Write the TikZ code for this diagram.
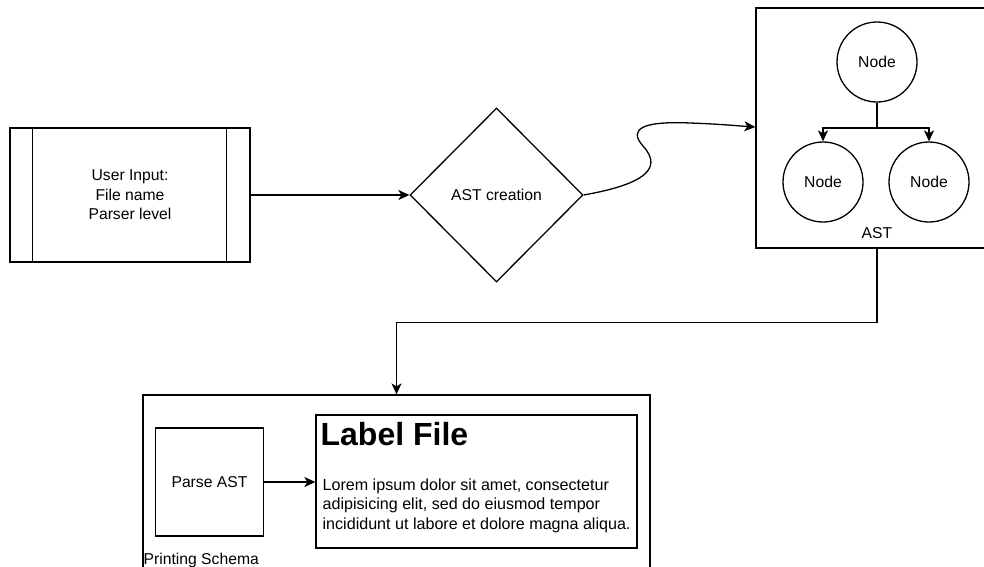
\documentclass[tikz,border=0pt]{standalone}
\usepackage{fontspec}
\setmainfont{Liberation Sans}
\usetikzlibrary{calc,positioning,shapes.geometric,arrows.meta}

\tikzset{
	blk/.style={draw, rectangle, inner sep=0pt, align=center, font=\fontsize{15.7}{19.5}\selectfont},
	decide/.style={draw, diamond, inner sep=0pt, align=center, font=\fontsize{15.7}{19.5}\selectfont},
	astnode/.style={draw, circle, minimum size=80pt, inner sep=0pt, font=\fontsize{15.7}{19.5}\selectfont},
	txt/.style={inner sep=0pt, font=\fontsize{15.7}{19.5}\selectfont},
	arr/.style={-{Stealth[length=11pt,width=10pt,inset=3pt]}}
}

\begin{document}
\begin{tikzpicture}[
		x=1pt, y=-1pt,
		line width=1.3pt,
		line join=miter
		]
		\useasboundingbox (0,0) rectangle (984,566);
		
		% user input (process)
		\node[blk, minimum width=240pt, minimum height=134pt] (input) at (130,195) {User Input:\\File name\\Parser level};
		\draw ([xshift=23pt]input.north west) -- ([xshift=23pt]input.south west);
		\draw ([xshift=-24pt]input.north east) -- ([xshift=-24pt]input.south east);
		
		\node[decide, minimum width=173pt, minimum height=174pt] (create) at (496.5,195) {AST creation};
		\draw[arr] (input) -- (create);
		
		% AST container
		\node[draw, minimum width=234pt, minimum height=240pt] (ast) at (873,128) {};
		\node[astnode] (root) at (877,62) {Node};
		\node[astnode] (kidl) at (823,182) {Node};
		\node[astnode] (kidr) at (929,182) {Node};
		\node[txt] (astlbl) at (877,233) {AST};
		\coordinate (split) at (877,128);
		\draw (root) -- (split);
		\draw[arr] (split) -| (kidl.north);
		\draw[arr] (split) -| (kidr.north);
		
		\coordinate (astin) at (ast.west |- 0,127);
		\draw[arr] (create.east) .. controls (640,185) and (665,170) .. (643,146)
			.. controls (627,128) and (645,121) .. (690,123)
			.. controls (720,124) and (740,126) .. (astin);
		
		% printing schema
		\node[draw, minimum width=507pt, minimum height=185pt] (schema) at (396.5,487.5) {};
		\draw[arr] (root |- ast.south) -- ++(0,74) -| (schema.north);
		
		\node[blk, minimum width=108pt, minimum height=108pt] (parse) at (209.5,482) {Parse AST};
		\node[draw, minimum width=321pt, minimum height=133pt] (lblfile) at (476.5,481.5) {};
		\draw[arr] (parse.east) -- (parse.east -| lblfile.west);
		
		\node[anchor=base west, inner sep=0pt, font=\bfseries\fontsize{32}{36}\selectfont] (lblhead) at (320,445) {Label File};
		\foreach \ln [count=\i from 0] in {{Lorem ipsum dolor sit amet, consectetur},{adipisicing elit, sed do eiusmod tempor},{incididunt ut labore et dolore magna aliqua.}} {
			\node[anchor=base west, inner sep=0pt, font=\fontsize{16.1}{19.5}\selectfont] (body\i) at (322,490+19.5*\i) {\ln};
		}
		
		\node[txt, anchor=base west] (schemalbl) at (143,564) {Printing Schema};
		
	\end{tikzpicture}
\end{document}
